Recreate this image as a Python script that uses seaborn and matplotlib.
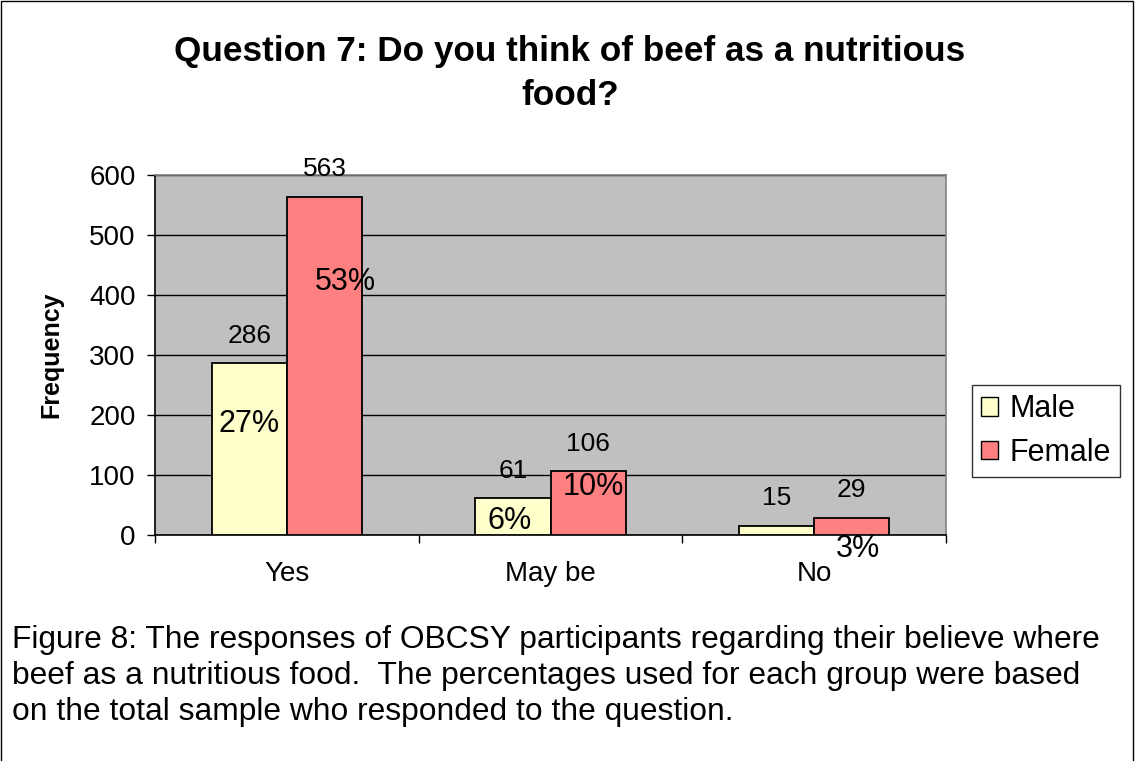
import matplotlib
matplotlib.use("Agg")
import matplotlib.pyplot as plt
import seaborn as sns
import pandas as pd
from matplotlib.patches import Rectangle, Patch

# Survey responses
categories = ["Yes", "May be", "No"]
groups = ["Male", "Female"]
male_counts = [286, 61, 15]
female_counts = [563, 106, 29]
male_pct = ["27%", "6%", "1%"]
female_pct = ["53%", "10%", "3%"]
y_ticks = [0, 100, 200, 300, 400, 500, 600]

title = "Question 7: Do you think of beef as a nutritious\nfood?"
caption = ("Figure 8: The responses of OBCSY participants regarding their believe where\n"
           "beef as a nutritious food.  The percentages used for each group were based\n"
           "on the total sample who responded to the question.")

df = pd.DataFrame({
    "Response": categories * 2,
    "Gender": [groups[0]] * 3 + [groups[1]] * 3,
    "Frequency": male_counts + female_counts,
})

sns.set_theme(style="white")
plt.rcParams["font.family"] = ["Liberation Sans", "DejaVu Sans"]
plt.rcParams.update({"text.color": "black", "axes.labelcolor": "black",
                     "xtick.color": "black", "ytick.color": "black"})

colors = {"Male": "#FFFFCC", "Female": "#FF8080"}

fig = plt.figure(figsize=(11.35, 7.61), dpi=100)
ax = fig.add_axes([0.1366, 0.2970, 0.6969, 0.4730])
ax.set_facecolor("#C0C0C0")

sns.barplot(data=df, x="Response", y="Frequency", hue="Gender", order=categories,
            hue_order=groups, palette=colors, width=0.57, gap=0,
            edgecolor="black", linewidth=1.3, saturation=1, ax=ax, legend=False, zorder=3)

ax.set_ylim(0, 600)
ax.set_xlim(-0.5, 2.5)
ax.set_yticks(y_ticks)
ax.yaxis.grid(True, color="black", linewidth=1.0, zorder=0)
ax.set_axisbelow(True)
ax.tick_params(axis="y", labelsize=20, length=6, width=1, direction="out", pad=8, left=True)
ax.set_xticks(range(len(categories)))
ax.set_xticklabels(categories)
ax.tick_params(axis="x", which="major", labelsize=20, length=0, pad=19)
ax.set_xticks([-0.5, 0.5, 1.5, 2.5], minor=True)
ax.tick_params(axis="x", which="minor", length=6, width=1, direction="out", bottom=True)

for side in ("left", "bottom"):
    ax.spines[side].set_color("black")
    ax.spines[side].set_linewidth(1.2)
for side in ("top", "right"):
    ax.spines[side].set_color("#808080")
    ax.spines[side].set_linewidth(1.2)

ax.set_xlabel("")
ax.set_ylabel("Frequency", fontsize=18, fontweight="bold")
ax.yaxis.set_label_coords(-0.116, 0.5)

# Value labels above the bars, percentage labels near the bars
pct_offsets = {
    ("Male", 0): (0, -61), ("Female", 0): (21, -85),
    ("Male", 1): (-3, -23), ("Female", 1): (5, -16),
    ("Male", 2): None, ("Female", 2): (6, -31),
}
for g, container in zip(groups, ax.containers):
    vals = male_counts if g == "Male" else female_counts
    pcts = male_pct if g == "Male" else female_pct
    for ci, bar in enumerate(container):
        cx = bar.get_x() + bar.get_width() / 2
        top = vals[ci]
        ax.annotate(str(vals[ci]), (cx, top), xytext=(0, 20), textcoords="offset points",
                    ha="center", va="center", fontsize=19, zorder=5)
        off = pct_offsets[(g, ci)]
        if off is not None:
            ax.annotate(pcts[ci], (cx, top), xytext=(off[0] * 0.72, off[1] * 0.72),
                        textcoords="offset points", ha="center", va="center",
                        fontsize=22, zorder=5, annotation_clip=False)

handles = [Patch(facecolor=colors[g], edgecolor="black", linewidth=1.0) for g in groups]
leg = fig.legend(handles, groups, loc="upper left", bbox_to_anchor=(0.856, 0.494),
                 fontsize=22, frameon=True, fancybox=False, edgecolor="black",
                 handlelength=0.55, handleheight=0.55, handletextpad=0.4,
                 borderpad=0.3, labelspacing=0.45, borderaxespad=0)
leg.get_frame().set_linewidth(1.0)

fig.text(0.502, 0.903, title, ha="center", va="center", fontsize=25.3, fontweight="bold",
         linespacing=1.42)
fig.text(0.011, 0.112, caption, ha="left", va="center", fontsize=22.9, linespacing=1.26)

fig.patches.append(Rectangle((0.001, -0.01), 0.997, 1.0085, transform=fig.transFigure,
                             fill=False, edgecolor="black", linewidth=1.0))

fig.savefig("out.png", dpi=100, facecolor="white")
